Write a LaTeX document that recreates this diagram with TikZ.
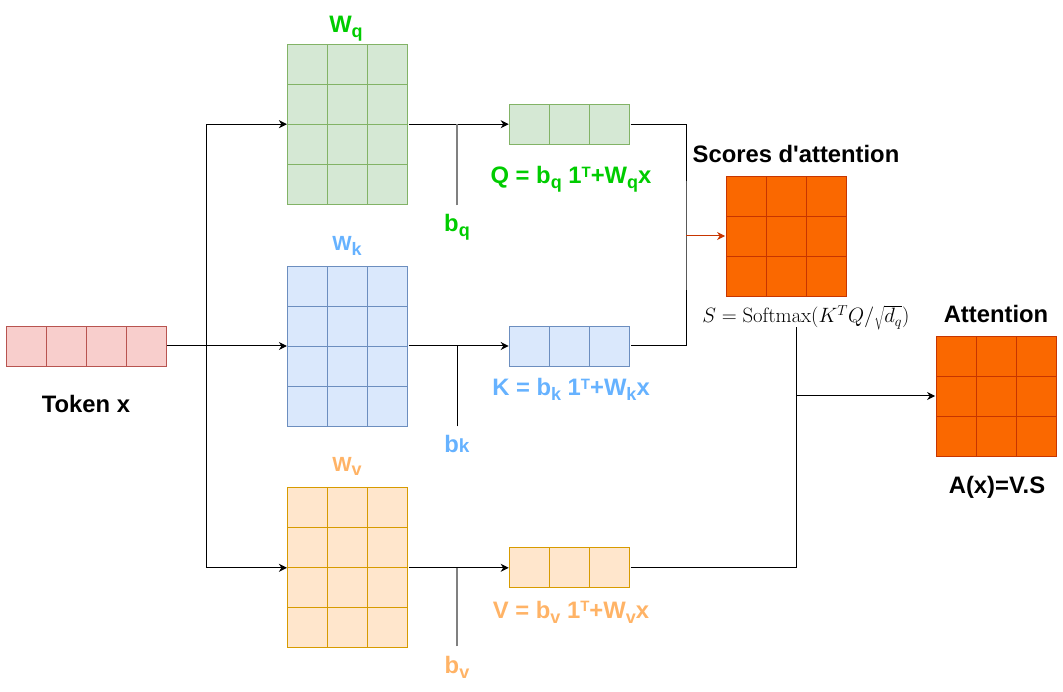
\documentclass[tikz,border=0pt]{standalone}
\usepackage[no-math]{fontspec}
\setmainfont{Liberation Sans}
\usetikzlibrary{arrows.meta, positioning, matrix}
\definecolor{qtext}{RGB}{0,204,0}
\definecolor{qfill}{RGB}{213,232,212}
\definecolor{qline}{RGB}{130,179,102}
\definecolor{ktext}{RGB}{102,178,255}
\definecolor{kfill}{RGB}{218,232,252}
\definecolor{kline}{RGB}{108,142,191}
\definecolor{vtext}{RGB}{255,179,102}
\definecolor{vfill}{RGB}{255,230,204}
\definecolor{vline}{RGB}{215,155,0}
\definecolor{tfill}{RGB}{248,206,204}
\definecolor{tline}{RGB}{184,84,80}
\definecolor{sfill}{RGB}{250,104,0}
\definecolor{sline}{RGB}{199,53,0}
\newcommand{\lo}[1]{\raisebox{-5pt}{\fontsize{18}{18}\selectfont #1}}
\newcommand{\hi}[1]{\raisebox{6.5pt}{\fontsize{15}{15}\selectfont #1}}

\begin{document}
\begin{tikzpicture}[x=1pt, y=-1pt, line width=1pt,
      cell/.style={draw, minimum size=40pt, inner sep=0pt, line width=0.8pt},
      mat/.style={matrix of nodes, nodes in empty cells, inner sep=0pt,
                  column sep=-0.8pt, row sep=-0.8pt, nodes={cell, #1}},
      lbl/.style={font=\bfseries\fontsize{23.8}{28}\selectfont, inner sep=0pt, anchor=base},
      sml/.style={font=\bfseries\fontsize{20.5}{24}\selectfont},
      ar/.style={-{Stealth[length=8pt, width=8pt, inset=2.5pt]}},
      bias/.style={draw=gray, line width=1.3pt, shorten <=9pt}]
    \useasboundingbox (0,0) rectangle (1063,692);
    % token and weight matrices
    \matrix[mat={draw=tline, fill=tfill}] (tok) at (86,346) { & & & \\ };
    \matrix[mat={draw=kline, fill=kfill}, right=120pt of tok] (wk) { & & \\ & & \\ & & \\ & & \\ };
    \matrix[mat={draw=qline, fill=qfill}, above=60pt of wk] (wq) { & & \\ & & \\ & & \\ & & \\ };
    \matrix[mat={draw=vline, fill=vfill}, below=60pt of wk] (wv) { & & \\ & & \\ & & \\ & & \\ };
    % Q, K, V
    \matrix[mat={draw=qline, fill=qfill}, right=100pt of wq] (q) { & & \\ };
    \matrix[mat={draw=kline, fill=kfill}, right=100pt of wk] (k) { & & \\ };
    \matrix[mat={draw=vline, fill=vfill}, right=100pt of wv] (v) { & & \\ };
    % scores and attention
    \matrix[mat={draw=sline, fill=sfill}] (sc) at (786,236) { & & \\ & & \\ & & \\ };
    \matrix[mat={draw=sline, fill=sfill}] (att) at (996,396) { & & \\ & & \\ & & \\ };

    \node[lbl, qtext] (wql) at (346,33) {W\lo{q}};
    \node[lbl, sml, ktext] (wkl) at (347,251) {W{\fontsize{16}{16}\selectfont\lo{k}}};
    \node[lbl, sml, vtext] (wvl) at (347,471) {W{\fontsize{16}{16}\selectfont\lo{v}}};
    \node[lbl, qtext] (ql) at (571,184) {Q = b\lo{q} 1\hi{T}+W\lo{q}x};
    \node[lbl, ktext] (kl) at (571,396) {K = b\lo{k} 1\hi{T}+W\lo{k}x};
    \node[lbl, vtext] (vl) at (571,618) {V = b\lo{v} 1\hi{T}+W\lo{v}x};
    \node[lbl, qtext] (bq) at (457,232) {b\lo{q}};
    \node[lbl, ktext] (bk) at (457,453) {b{\fontsize{19}{19}\selectfont k}};
    \node[lbl, vtext] (bv) at (457,673) {b\lo{v}};
    \node[lbl] (tokl) at (86,413) {Token x};
    \node[lbl] (scl) at (796,163) {Scores d\textquotesingle attention};
    \node[lbl] (attl) at (996,323) {Attention};
    \node[lbl] (al) at (997,493) {A(x)=V.S};
    \node[lbl, font=\fontsize{21}{25}\selectfont] (fs) at (806,323) {$S=\mathrm{Softmax}(K^TQ/\sqrt{d_q})$};

    % connectors
    \coordinate (split) at (206,346);
    \coordinate (mrg) at (686,236);
    \coordinate (fsout) at (796,327);
    \draw[ar] (tok) -- (wk);
    \draw (split |- wq.west) -- (split |- wv.west);
    \draw[ar] (split |- wq.west) -- (wq.west);
    \draw[ar] (split |- wv.west) -- (wv.west);
    \draw[ar] (wq) -- (q);
    \draw[ar] (wk) -- (k);
    \draw[ar] (wv) -- (v);
    \draw[bias] (bq.north) -- (bq |- wq.east);
    \draw[bias, draw=black, line width=1pt] (bk.north) -- (bk |- wk.east);
    \draw[bias] (bv.north) -- (bv |- wv.east);
    \draw (q.east) -| (mrg) |- (k.east);
    \draw[ar, sline] (mrg) -- (sc);
    \draw (v.east) -| (fsout);
    \draw[ar] (fsout |- att.west) -- (att.west);
  \end{tikzpicture}
\end{document}
